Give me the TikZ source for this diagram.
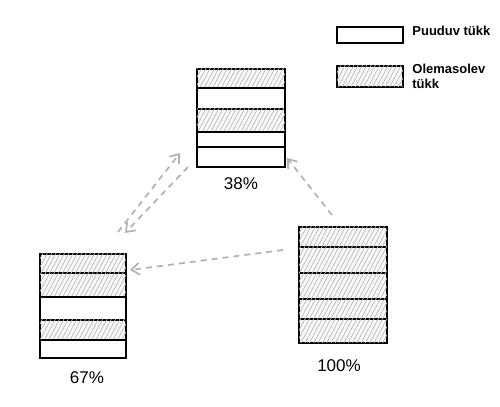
\documentclass[tikz,border=0pt]{standalone}
\usepackage{fontspec}
\setmainfont{Liberation Sans}
\usetikzlibrary{arrows.meta,positioning,patterns.meta}
\tikzset{
  tukk/.style={draw, line width=1.2pt, inner sep=0pt, outer sep=0pt, minimum width=44pt, fill=white},
  olemas/.style={tukk, fill=gray!5, postaction={pattern={Lines[angle=62,distance=1.9pt,line width=0.35pt]}, pattern color=gray!55}},
  arr/.style={-{Straight Barb[length=4pt,width=6pt]}, dashed, dash pattern=on 3pt off 2.5pt, line width=0.85pt, draw=gray!60},
  protsent/.style={inner sep=0pt, font=\fontsize{8.5}{10}\selectfont},
  legtext/.style={inner sep=0pt, align=left, font=\fontsize{6.5}{7.5}\selectfont\bfseries},
}
\begin{document}
\begin{tikzpicture}[x=0.5pt, y=-0.5pt]
  \useasboundingbox[fill=white] (0,0) rectangle (500,407);
  % ülemine virn, 38%
  \node[olemas, minimum height=9.5pt, anchor=north west] (t1) at (197,69) {};
  \node[tukk, minimum height=10.5pt, below=0pt of t1] (t2) {};
  \node[olemas, minimum height=11.5pt, below=0pt of t2] (t3) {};
  \node[tukk, minimum height=7.5pt, below=0pt of t3] (t4) {};
  \node[tukk, minimum height=10pt, below=0pt of t4] (t5) {};
  \node[protsent, below=4.9pt of t5] (p38) {38\%};
  % vasak virn, 67%
  \node[olemas, minimum width=43pt, minimum height=9.5pt, anchor=north west] (l1) at (40,254) {};
  \node[olemas, minimum width=43pt, minimum height=12pt, below=0pt of l1] (l2) {};
  \node[tukk, minimum width=43pt, minimum height=11.5pt, below=0pt of l2] (l3) {};
  \node[olemas, minimum width=43pt, minimum height=10pt, below=0pt of l3] (l4) {};
  \node[tukk, minimum width=43pt, minimum height=9pt, below=0pt of l4] (l5) {};
  \node[protsent, below=6.4pt of l5, xshift=2pt] (p67) {67\%};
  % parem virn, 100%
  \node[olemas, minimum height=10pt, anchor=north west] (r1) at (299,227) {};
  \node[olemas, minimum height=13pt, below=0pt of r1] (r2) {};
  \node[olemas, minimum height=13pt, below=0pt of r2] (r3) {};
  \node[olemas, minimum height=10pt, below=0pt of r3] (r4) {};
  \node[olemas, minimum height=12pt, below=0pt of r4] (r5) {};
  \node[protsent, below=7.9pt of r5, xshift=-2pt] (p100) {100\%};
  % legend
  \node[tukk, minimum width=33pt, minimum height=8pt, anchor=north west] (leg1) at (337,27) {};
  \node[legtext, anchor=west] (leg1t) at ([shift={(9,-4)}]leg1.east) {Puuduv tükk};
  \node[olemas, minimum width=33pt, minimum height=10.5pt, anchor=north west] (leg2) at (337,66) {};
  \node[legtext, anchor=west] (leg2t) at ([shift={(9,0)}]leg2.east) {Olemasolev\\tükk};
  % nooled
  \draw[arr] ([shift={(-16,3)}]r1.south west) -- ([shift={(4,-3)}]l1.south east);
  \draw[arr] ([shift={(-11,-12)}]r1.north) -- ([shift={(2,1)}]t5.east);
  \draw[arr] ([shift={(-8,-22)}]l1.north east) -- ([shift={(-17,-4)}]t5.west);
  \draw[arr] ([shift={(-9,0)}]t5.south west) -- ([shift={(-1,-21)}]l1.north east);
\end{tikzpicture}
\end{document}
